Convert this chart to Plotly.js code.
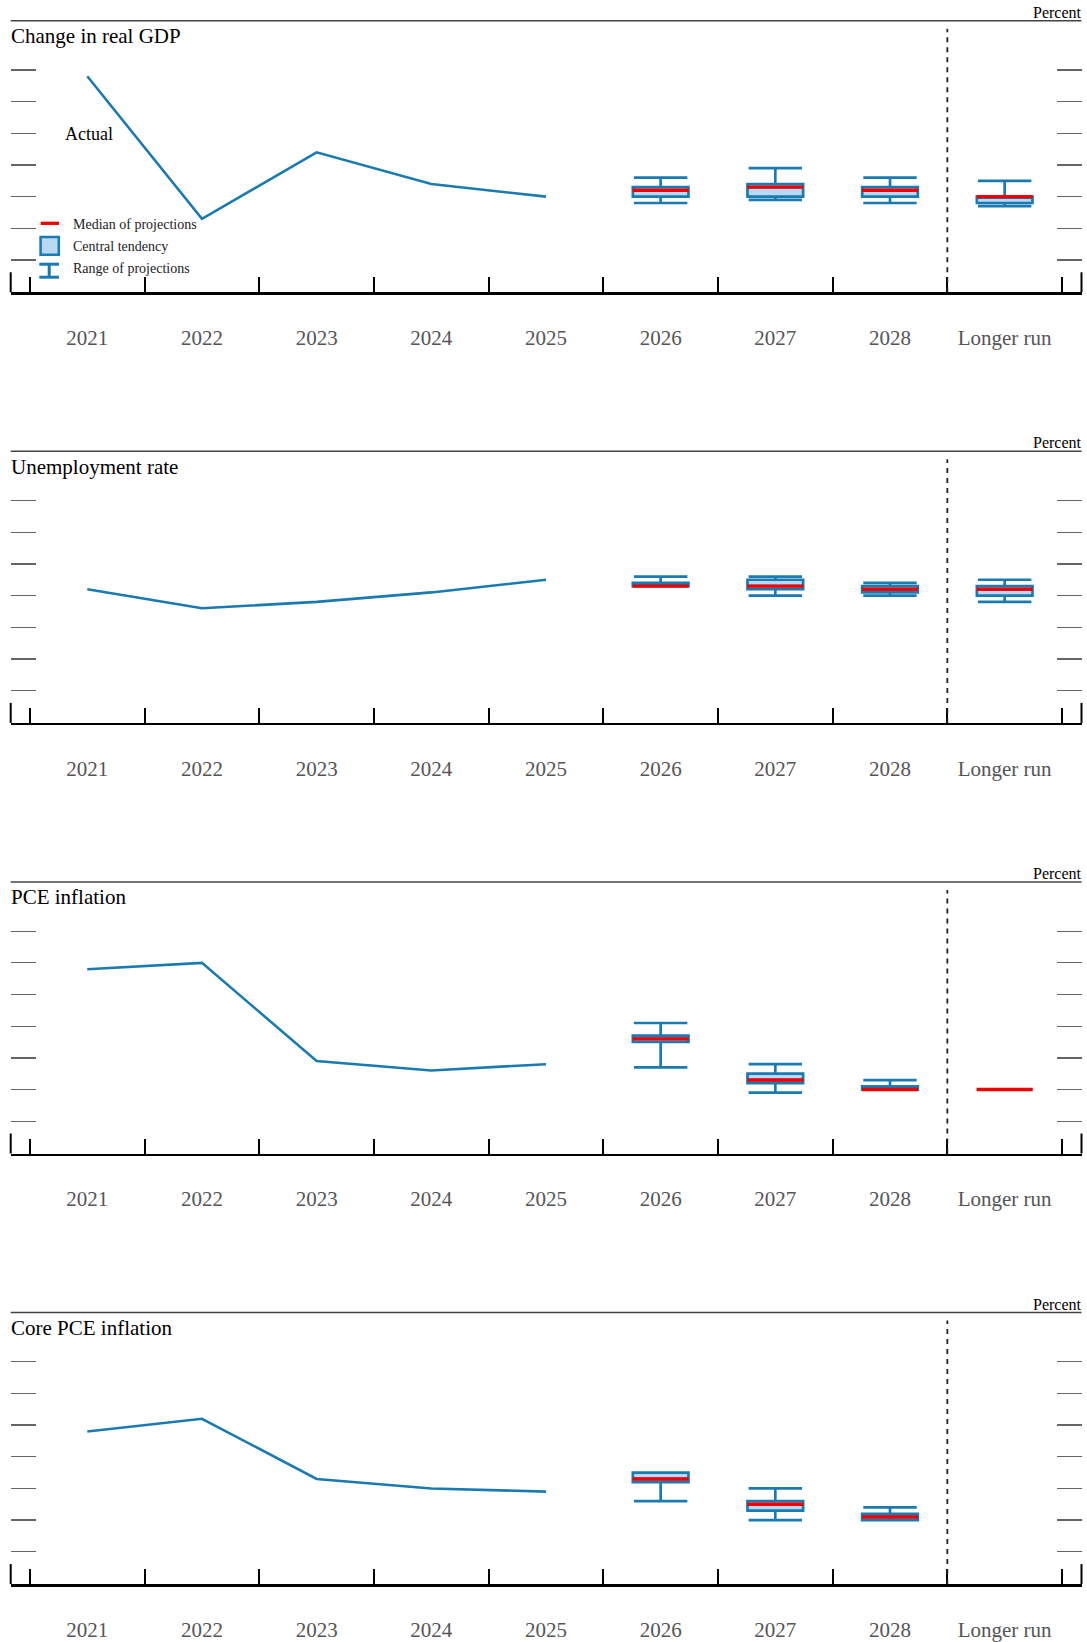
<!DOCTYPE html>
<html>
<head>
<meta charset="utf-8">
<script src="https://cdn.plot.ly/plotly-3.0.1.min.js"></script>
<style>html,body{margin:0;padding:0;background:#fff;}#chart{width:1087px;height:1642px;}</style>
</head>
<body>
<div id="chart"></div>
<script>
// ---------- DATA ----------
const categories = ['2021','2022','2023','2024','2025','2026','2027','2028','Longer run'];
const actualYears = ['2021','2022','2023','2024','2025'];
const projYears = ['2026','2027','2028','Longer run'];
const panelTitles = ['Change in real GDP','Unemployment rate','PCE inflation','Core PCE inflation'];
const yTickVals = [[0,1,2,3,4,5,6],[1,2,3,4,5,6,7],[1,2,3,4,5,6,7],[1,2,3,4,5,6,7]];

const gdpActual = [5.8, 1.3, 3.4, 2.4, 2.0];
const gdpMedian = [2.2, 2.3, 2.2, 2.0];
const gdpCtLow = [2.0, 2.0, 2.0, 1.8];
const gdpCtHigh = [2.3, 2.4, 2.3, 2.0];
const gdpRangeLow = [1.8, 1.9, 1.8, 1.7];
const gdpRangeHigh = [2.6, 2.9, 2.6, 2.5];

const unempActual = [4.2, 3.6, 3.8, 4.1, 4.5];
const unempMedian = [4.3, 4.3, 4.2, 4.2];
const unempCtLow = [4.3, 4.2, 4.1, 4.0];
const unempCtHigh = [4.4, 4.5, 4.3, 4.3];
const unempRangeLow = [4.3, 4.0, 4.0, 3.8];
const unempRangeHigh = [4.6, 4.6, 4.4, 4.5];

const pceActual = [5.8, 6.0, 2.9, 2.6, 2.8];
const pceMedian = [3.6, 2.3, 2.0, 2.0];
const pceCtLow = [3.5, 2.2, 2.0, 2.0];
const pceCtHigh = [3.7, 2.5, 2.1, 2.0];
const pceRangeLow = [2.7, 1.9, 2.0, 2.0];
const pceRangeHigh = [4.1, 2.8, 2.3, 2.0];

const coreActual = [4.8, 5.2, 3.3, 3.0, 2.9];
const coreMedian = [3.3, 2.5, 2.1, null];
const coreCtLow = [3.2, 2.3, 2.0, null];
const coreCtHigh = [3.5, 2.6, 2.2, null];
const coreRangeLow = [2.6, 2.0, 2.0, null];
const coreRangeHigh = [3.5, 3.0, 2.4, null];

const panels = [
  {actual: gdpActual, med: gdpMedian, ctl: gdpCtLow, cth: gdpCtHigh, rl: gdpRangeLow, rh: gdpRangeHigh, yBottom: -1.02},
  {actual: unempActual, med: unempMedian, ctl: unempCtLow, cth: unempCtHigh, rl: unempRangeLow, rh: unempRangeHigh, yBottom: -0.02},
  {actual: pceActual, med: pceMedian, ctl: pceCtLow, cth: pceCtHigh, rl: pceRangeLow, rh: pceRangeHigh, yBottom: -0.02},
  {actual: coreActual, med: coreMedian, ctl: coreCtLow, cth: coreCtHigh, rl: coreRangeLow, rh: coreRangeHigh, yBottom: -0.02}
];

// ---------- STYLE / GEOMETRY ----------
const W = 1087, H = 1642;
const FONT = 'Liberation Serif, Times New Roman, serif';
const BLUE = '#1a7ab2', LIGHT = '#b9d8f4', RED = '#f20000';
const XL = 10.7, XR = 1081.5;
const TOP0 = 20.7, AXIS0 = 292.3, STEP = 430.6, PXU = 31.67;
const CAT0 = 87.3, CATW = 114.67;
const fx = px => px / W;
const fy = px => 1 - px / H;

const data = [];
const layout = {
  width: W, height: H, margin: {l:0, r:0, t:0, b:0},
  paper_bgcolor: '#fff', plot_bgcolor: '#fff', showlegend: false,
  shapes: [], annotations: []
};

panels.forEach((P, p) => {
  const sfx = p === 0 ? '' : String(p + 1);
  const xa = 'x' + sfx, ya = 'y' + sfx;
  const T = TOP0 + p * STEP, B = AXIS0 + p * STEP;
  const bounds = categories.map((c, i) => i - 0.5).concat([categories.length - 0.5]);

  layout['xaxis' + sfx] = {
    domain: [fx(XL), fx(XR)], anchor: ya,
    range: [(XL - CAT0) / CATW, (XR - CAT0) / CATW],
    tickmode: 'array', tickvals: categories.map((c, i) => i), ticktext: categories,
    ticks: '', showline: true, linecolor: '#000', linewidth: 2.5,
    showgrid: false, zeroline: false, fixedrange: true,
    tickfont: {family: FONT, size: 21, color: '#555'}, ticklabelstandoff: 25,
    minor: {tickmode: 'array', tickvals: bounds, ticks: 'inside', ticklen: 15, tickwidth: 2, tickcolor: '#000', showgrid: false}
  };
  layout['yaxis' + sfx] = {
    domain: [fy(B), fy(T)], anchor: xa,
    range: [P.yBottom, P.yBottom + (B - T) / PXU],
    tickmode: 'array', tickvals: yTickVals[p], ticks: 'inside', ticklen: 25, tickwidth: 1.3,
    tickcolor: '#666', mirror: 'ticks', showticklabels: false, showline: false,
    showgrid: false, zeroline: false, fixedrange: true
  };

  // actual line
  data.push({
    type: 'scatter', mode: 'lines', xaxis: xa, yaxis: ya,
    x: actualYears.map(y => categories.indexOf(y)), y: P.actual,
    line: {color: BLUE, width: 2.6}, hoverinfo: 'skip'
  });

  // projections (skip empty)
  const idx = projYears.map((y, i) => i).filter(i => P.med[i] !== null);
  data.push({
    type: 'box', xaxis: xa, yaxis: ya,
    x: idx.map(i => categories.indexOf(projYears[i])),
    q1: idx.map(i => P.ctl[i]), q3: idx.map(i => P.cth[i]), median: idx.map(i => P.med[i]),
    lowerfence: idx.map(i => P.rl[i]), upperfence: idx.map(i => P.rh[i]),
    width: 0.485, whiskerwidth: 0.96, boxpoints: false,
    fillcolor: LIGHT, line: {color: BLUE, width: 2.7}, hoverinfo: 'skip'
  });
  data.push({
    type: 'scatter', mode: 'markers', xaxis: xa, yaxis: ya,
    x: idx.map(i => categories.indexOf(projYears[i])), y: idx.map(i => P.med[i]),
    marker: {symbol: 'line-ew', size: 40, color: RED, line: {color: RED, width: 3.4}},
    hoverinfo: 'skip'
  });

  // top rule
  layout.shapes.push({type: 'line', xref: 'paper', yref: 'paper', x0: fx(XL), x1: fx(XR), y0: fy(T), y1: fy(T),
    line: {color: '#444', width: 1.5}});
  // edge verticals at axis ends
  [XL, XR].forEach(xx => layout.shapes.push({type: 'line', xref: 'paper', yref: 'paper', x0: fx(xx), x1: fx(xx),
    y0: fy(B), y1: fy(B - 20), line: {color: '#000', width: 2}}));
  // dashed separator before longer run
  const sep = categories.indexOf('Longer run') - 0.5;
  layout.shapes.push({type: 'line', xref: xa, yref: 'paper', x0: sep, x1: sep, y0: fy(B), y1: fy(T + 8),
    line: {color: '#222', width: 1.8, dash: '5px,5px'}});

  // panel title + Percent
  layout.annotations.push({xref: 'paper', yref: 'paper', x: fx(XL - 2), y: fy(T + 15.5), xanchor: 'left', yanchor: 'middle',
    text: panelTitles[p], showarrow: false, font: {family: FONT, size: 21, color: '#000'}});
  layout.annotations.push({xref: 'paper', yref: 'paper', x: fx(XR + 2), y: fy(T - 8.5), xanchor: 'right', yanchor: 'middle',
    text: 'Percent', showarrow: false, font: {family: FONT, size: 16, color: '#000'}});
});

// ---------- legend (panel 1) ----------
layout.annotations.push({xref: 'paper', yref: 'paper', x: fx(63), y: fy(134), xanchor: 'left', yanchor: 'middle',
  text: 'Actual', showarrow: false, font: {family: FONT, size: 18, color: '#000'}});
const legendItems = ['Median of projections', 'Central tendency', 'Range of projections'];
const legendY = [224.3, 246.5, 268.3];
legendItems.forEach((t, i) => layout.annotations.push({xref: 'paper', yref: 'paper', x: fx(71), y: fy(legendY[i]),
  xanchor: 'left', yanchor: 'middle', text: t, showarrow: false, font: {family: FONT, size: 14, color: '#222'}}));
layout.shapes.push({type: 'line', xref: 'paper', yref: 'paper', x0: fx(40.7), x1: fx(59), y0: fy(223.3), y1: fy(223.3),
  line: {color: RED, width: 3.3}});
layout.shapes.push({type: 'rect', xref: 'paper', yref: 'paper', x0: fx(40.6), x1: fx(58.8), y0: fy(237), y1: fy(254.7),
  fillcolor: LIGHT, line: {color: BLUE, width: 2.5}});
[[39.3, 264.2, 59, 264.2], [39.3, 277.2, 59, 277.2], [49.2, 264.2, 49.2, 277.2]].forEach(s =>
  layout.shapes.push({type: 'line', xref: 'paper', yref: 'paper', x0: fx(s[0]), y0: fy(s[1]), x1: fx(s[2]), y1: fy(s[3]),
    line: {color: BLUE, width: 3}}));

Plotly.newPlot('chart', data, layout, {staticPlot: true, displayModeBar: false});
</script>
</body>
</html>
